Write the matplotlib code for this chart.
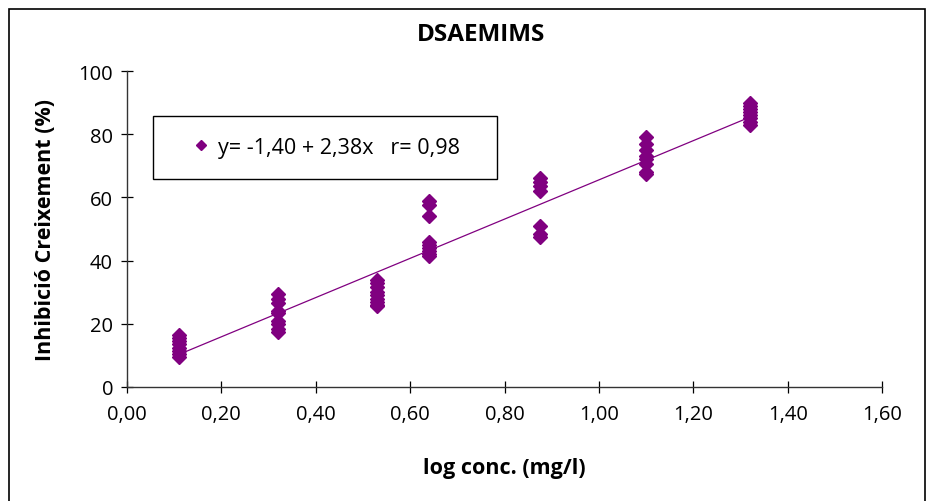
import matplotlib
matplotlib.use("Agg")
import matplotlib.pyplot as plt
from matplotlib.patches import Rectangle
import numpy as np

plt.rcParams['font.family'] = ['Open Sans', 'DejaVu Sans']

# Data
log_conc = [0.11, 0.32, 0.53, 0.64, 0.875, 1.10, 1.32]
inhibition = [
    [16.5, 15.5, 14.5, 13.5, 12.5, 11.5, 10.5, 9.5],
    [29.5, 28.0, 26.5, 24.0, 23.5, 21.0, 20.0, 18.5, 17.5],
    [34.0, 33.0, 31.5, 30.0, 29.0, 28.0, 27.0, 26.0, 25.5],
    [59.0, 57.5, 54.0, 46.0, 45.0, 44.0, 43.0, 42.0, 41.5],
    [66.0, 65.0, 63.5, 62.0, 51.0, 48.5, 47.5],
    [79.0, 77.0, 75.0, 73.0, 72.0, 70.5, 68.0, 67.5],
    [90.0, 89.0, 88.0, 87.0, 86.0, 85.0, 84.0, 83.0],
]
fit_x = [0.11, 1.32]
fit_y = [10.3, 85.4]
legend_label = "y= -1,40 + 2,38x   r= 0,98"
title = "DSAEMIMS"
xlabel = "log conc. (mg/l)"
ylabel = "Inhibició Creixement (%)"
xticks = [0.0, 0.2, 0.4, 0.6, 0.8, 1.0, 1.2, 1.4, 1.6]
yticks = [0, 20, 40, 60, 80, 100]

W, H = 934, 502
fig = plt.figure(figsize=(W / 100, H / 100), dpi=100)
fig.patch.set_facecolor('white')

# outer border (bottom edge lies outside the image, as in the reference)
fig.patches.append(Rectangle((9 / W, 1 - 520 / H), (925 - 9) / W, (520 - 10) / H,
                             transform=fig.transFigure, fill=False,
                             edgecolor='black', linewidth=1.2, clip_on=False))

left, right, top, bottom = 127, 882, 72, 388
ax = fig.add_axes([left / W, 1 - bottom / H, (right - left) / W, (bottom - top) / H])

purple = '#800080'
xs, ys = [], []
for x, vals in zip(log_conc, inhibition):
    xs += [x] * len(vals)
    ys += vals
ax.plot(xs, ys, linestyle='none', marker='D', markersize=7.2, color=purple,
        markeredgecolor=purple, label=legend_label, zorder=3)
ax.plot(fit_x, fit_y, color=purple, linewidth=0.9, zorder=2)

ax.set_xlim(0, 1.6)
ax.set_ylim(0, 100)
ax.set_xticks(xticks)
ax.set_xticklabels([f"{t:.2f}".replace('.', ',') for t in xticks])
ax.set_yticks(yticks)
ax.set_yticklabels([str(t) for t in yticks])
ax.tick_params(direction='inout', length=8, width=0.9, labelsize=14.5, colors='black', pad=6)
ax.tick_params(axis='x', pad=8)
for s in ['top', 'right']:
    ax.spines[s].set_visible(False)
for s in ['left', 'bottom']:
    ax.spines[s].set_color('#333333')
    ax.spines[s].set_linewidth(1.0)

ax.set_xlabel(xlabel, fontsize=15.5, fontweight='bold', labelpad=24)
ax.set_ylabel(ylabel, fontsize=15.5, fontweight='bold', labelpad=16)
fig.text(481 / W, 1 - 35 / H, title, fontsize=17.5, fontweight='bold', ha='center', va='center')

# legend box
ax.add_patch(Rectangle((153 / W, 1 - 180 / H), (497 - 153) / W, (180 - 117) / H,
                       transform=fig.transFigure, fill=True, facecolor='white',
                       edgecolor='black', linewidth=1.0, zorder=4, clip_on=False))
fs = 15.5
fspx = fs * 100 / 72
leg = ax.legend(loc='center left',
                bbox_to_anchor=(201 / W - 0.5 * fspx / W, 1 - 148.5 / H),
                bbox_transform=fig.transFigure,
                frameon=False, fontsize=fs, markerscale=0.75,
                handlelength=1.0, handletextpad=0.3, borderpad=0, borderaxespad=0)
leg.set_zorder(5)

fig.savefig('out.png', dpi=100, facecolor='white')
